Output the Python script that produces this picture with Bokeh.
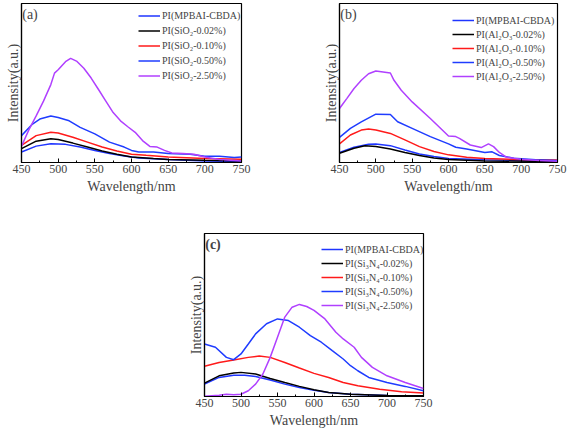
from bokeh.plotting import figure
from bokeh.models import (Legend, LegendItem, Label, SingleIntervalTicker, FixedTicker, Spacer)
from bokeh.layouts import row, column
from bokeh.embed import file_html
from bokeh.resources import INLINE

# ---------------- Panel (a): SiO2 ----------------
a_labels = ["PI(MPBAI-CBDA)", "PI(SiO\u2082-0.02%)", "PI(SiO\u2082-0.10%)", "PI(SiO\u2082-0.50%)", "PI(SiO\u2082-2.50%)"]
a_mpbai_x = [450, 470, 490, 510, 530, 550, 570, 590, 610, 650, 700, 750]
a_mpbai_y = [6.6, 10.3, 11.8, 11.4, 9.7, 7.6, 5.6, 4.1, 2.9, 1.9, 1.0, 0.6]
a_002_x = [450, 470, 490, 500, 520, 540, 560, 580, 600, 630, 650, 700, 750]
a_002_y = [8.7, 13.4, 14.9, 14.5, 12.2, 9.7, 7.2, 5.2, 3.5, 2.5, 1.9, 1.4, 1.0]
a_010_x = [450, 470, 490, 500, 520, 540, 560, 580, 600, 620, 650, 700, 750]
a_010_y = [10.7, 16.9, 19.0, 18.6, 15.9, 12.8, 9.7, 7.2, 5.2, 4.5, 3.5, 2.5, 2.1]
a_050_x = [450, 465, 475, 490, 500, 515, 530, 550, 570, 590, 600, 610, 630, 650, 680, 700, 720, 740, 750]
a_050_y = [16.9, 24.2, 27.3, 29.3, 28.3, 26.2, 22.1, 18.0, 12.8, 9.7, 7.6, 6.6, 6.6, 5.6, 5.2, 3.9, 3.9, 3.1, 3.5]
a_250_x = [450, 460, 470, 480, 490, 495, 500, 510, 517, 525, 535, 545, 555, 565, 575, 585, 595, 605, 615,
           625, 635, 645, 655, 670, 685, 700, 720, 750]
a_250_y = [10.3, 20.5, 29.3, 38.6, 49.0, 56.2, 58.3, 63.4, 65.5, 63.8, 59.3, 53.1, 45.9, 38.6, 31.4, 26.2, 22.5, 19.0, 13.8,
           10.1, 9.7, 7.6, 6.0, 5.6, 5.2, 3.5, 1.9, 1.0]

# ---------------- Panel (b): Al2O3 ----------------
b_labels = ["PI(MPBAI-CBDA)", "PI(Al\u2082O\u2083-0.02%)", "PI(Al\u2082O\u2083-0.10%)", "PI(Al\u2082O\u2083-0.50%)", "PI(Al\u2082O\u2083-2.50%)"]
b_mpbai_x = [450, 470, 490, 500, 520, 540, 560, 580, 600, 650, 750]
b_mpbai_y = [6.3, 9.6, 11.5, 11.7, 10.6, 7.9, 5.4, 3.8, 2.5, 1.7, 0.8]
b_002_x = [450, 470, 485, 500, 520, 540, 560, 580, 600, 650, 750]
b_002_y = [5.8, 9.0, 10.6, 10.0, 8.5, 6.3, 4.4, 2.9, 1.9, 1.0, 0.6]
b_010_x = [450, 465, 480, 490, 500, 520, 540, 560, 580, 600, 625, 650, 700, 750]
b_010_y = [11.7, 17.3, 20.4, 21.0, 20.4, 18.3, 14.2, 10.0, 6.9, 4.8, 3.3, 2.5, 1.9, 1.5]
b_050_x = [450, 465, 480, 500, 520, 530, 550, 575, 600, 610, 625, 650, 660, 670, 690, 720, 750]
b_050_y = [15.8, 21.5, 25.6, 30.4, 30.2, 25.6, 21.5, 16.3, 11.7, 9.6, 8.5, 6.3, 6.7, 4.4, 2.7, 1.7, 1.3]
b_250_x = [450, 460, 470, 480, 490, 500, 510, 520, 525, 535, 550, 575, 600, 610, 615, 630, 645, 655, 662,
           670, 680, 700, 725, 750]
b_250_y = [34.0, 40.2, 46.5, 51.7, 55.8, 57.5, 56.9, 56.3, 51.7, 45.4, 38.1, 27.7, 16.7, 16.3, 15.2, 11.0, 9.4, 11.7, 10.0,
           6.3, 3.3, 2.1, 1.3, 0.8]

# ---------------- Panel (c): Si3N4 ----------------
c_labels = ["PI(MPBAI-CBDA)", "PI(Si\u2083N\u2084-0.02%)", "PI(Si\u2083N\u2084-0.10%)", "PI(Si\u2083N\u2084-0.50%)", "PI(Si\u2083N\u2084-2.50%)"]
c_mpbai_x = [450, 470, 490, 505, 520, 540, 560, 580, 600, 620, 650, 700, 750]
c_mpbai_y = [7.6, 11.7, 13.1, 13.1, 12.3, 10.1, 7.6, 5.5, 3.9, 2.5, 1.4, 0.6, 0.2]
c_002_x = [450, 470, 490, 500, 520, 540, 560, 580, 600, 620, 650, 700, 750]
c_002_y = [8.2, 12.7, 14.4, 14.8, 13.8, 11.1, 8.6, 6.2, 4.1, 2.5, 1.4, 0.6, 0.4]
c_010_x = [450, 470, 490, 510, 525, 540, 560, 580, 600, 620, 640, 660, 690, 720, 750]
c_010_y = [18.5, 20.9, 22.4, 24.0, 24.8, 24.0, 20.9, 17.5, 14.2, 11.7, 8.6, 6.6, 4.5, 2.9, 2.1]
c_050_x = [450, 465, 480, 490, 500, 510, 520, 535, 550, 565, 580, 595, 610, 625, 640, 650, 660, 675, 700, 725, 750]
c_050_y = [32.2, 30.2, 24.0, 22.6, 26.1, 32.2, 38.4, 44.6, 47.6, 46.6, 42.5, 37.4, 33.3, 28.1, 23.0, 18.9, 15.8, 11.7, 8.6, 6.2, 3.5]
c_250_x = [450, 470, 480, 490, 500, 510, 520, 530, 540, 550, 560, 570, 580, 590, 600, 615, 630, 640, 655,
           665, 680, 700, 725, 750]
c_250_y = [0.2, 0.8, 1.4, 1.0, 1.4, 3.5, 7.6, 13.8, 24.0, 36.3, 48.7, 54.8, 56.5, 55.2, 52.8, 47.6, 39.4, 35.3, 30.2,
           24.0, 17.9, 12.7, 8.6, 4.9]

tick_labels_x = [450, 500, 550, 600, 650, 700, 750]

BLUE = "#1f35ff"
BLACK = "#000000"
RED = "#ff1a1a"
BLUE2 = "#1f3cff"
PURPLE = "#b040ff"
COLORS = [BLUE, BLACK, RED, BLUE2, PURPLE]
SERIF = "Liberation Serif"


def make_panel(tag, series, labels, width, height, bl, br, bt, bb, legend_xy, row_h, tag_bold=False):
    p = figure(width=width, height=height, x_range=(450, 750), y_range=(0, 100),
               output_backend="svg", toolbar_location=None,
               min_border_left=bl, min_border_right=br, min_border_top=bt, min_border_bottom=bb,
               background_fill_color="white", border_fill_color="white")
    p.xgrid.visible = False
    p.ygrid.visible = False
    p.outline_line_color = "black"
    p.outline_line_width = 1.2

    xa = p.xaxis[0]
    xa.ticker = SingleIntervalTicker(interval=50, num_minor_ticks=2)
    xa.major_tick_in = 4
    xa.major_tick_out = 0
    xa.minor_tick_in = 2
    xa.minor_tick_out = 0
    xa.major_label_text_font = SERIF
    xa.major_label_text_font_size = "12px"
    xa.major_label_standoff = 2
    xa.axis_label = "Wavelength/nm"
    xa.axis_label_text_font = SERIF
    xa.axis_label_text_font_size = "14px"
    xa.axis_label_text_font_style = "normal"
    xa.axis_label_standoff = 3
    xa.axis_line_color = "black"
    xa.axis_line_width = 1.2

    ya = p.yaxis[0]
    ya.ticker = FixedTicker(ticks=[])
    ya.axis_label = "Intensity(a.u.)"
    ya.axis_label_text_font = SERIF
    ya.axis_label_text_font_size = "14px"
    ya.axis_label_text_font_style = "normal"
    ya.axis_label_standoff = 1
    ya.axis_line_color = "black"
    ya.axis_line_width = 1.2

    items = []
    for (xs, ys), lab, col in zip(series, labels, COLORS):
        r = p.line(xs, ys, line_color=col, line_width=1.5)
        items.append(LegendItem(label=lab, renderers=[r]))

    legend = Legend(items=items, location=legend_xy,
                    glyph_width=22, glyph_height=int(row_h), label_height=int(row_h),
                    label_standoff=2, spacing=0, padding=0, margin=0,
                    label_text_font=SERIF, label_text_font_size="10px",
                    background_fill_alpha=0, border_line_alpha=0)
    p.add_layout(legend)

    p.add_layout(Label(x=451, y=98, text=tag, text_baseline="top", text_align="left",
                       text_font=SERIF, text_font_size="14px",
                       text_font_style="bold" if tag_bold else "normal"))
    return p


pa = make_panel("(a)",
                [(a_mpbai_x, a_mpbai_y), (a_002_x, a_002_y), (a_010_x, a_010_y), (a_050_x, a_050_y), (a_250_x, a_250_y)],
                a_labels, 283, 212, 21, 42, 1, 50, (117, 79), 15)
pb = make_panel("(b)",
                [(b_mpbai_x, b_mpbai_y), (b_002_x, b_002_y), (b_010_x, b_010_y), (b_050_x, b_050_y), (b_250_x, b_250_y)],
                b_labels, 284, 212, 56, 10, 3, 49, (113, 79), 14)
pc = make_panel("(c)",
                [(c_mpbai_x, c_mpbai_y), (c_002_x, c_002_y), (c_010_x, c_010_y), (c_050_x, c_050_y), (c_250_x, c_250_y)],
                c_labels, 300, 218, 54, 27, 21, 34, (117, 84), 14, tag_bold=True)

root = column(row(pa, pb), row(Spacer(width=150, height=218), pc))

open("out.html", "w").write(file_html(root, INLINE))
